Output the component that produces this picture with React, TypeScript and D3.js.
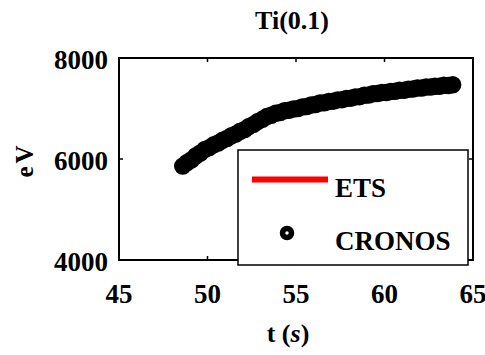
import React, { useEffect, useRef } from 'react';
import * as d3 from 'd3';

// CRONOS time trace (s) and electron temperature (eV)
const cronosTime = [
  48.6, 48.85, 49.1, 49.35, 49.6, 49.85, 50.1, 50.35, 50.6, 50.85,
  51.1, 51.35, 51.6, 51.85, 52.1, 52.35, 52.6, 52.85, 53.1, 53.35,
  53.6, 53.85, 54.1, 54.35, 54.6, 54.85, 55.1, 55.35, 55.6, 55.85,
  56.1, 56.35, 56.6, 56.85, 57.1, 57.35, 57.6, 57.85, 58.1, 58.35,
  58.6, 58.85, 59.1, 59.35, 59.6, 59.85, 60.1, 60.35, 60.6, 60.85,
  61.1, 61.35, 61.6, 61.85, 62.1, 62.35, 62.6, 62.85, 63.1, 63.35,
  63.6, 63.85,
];
const cronosTe = [
  5860, 5930, 5985, 6065, 6120, 6190, 6225, 6280, 6315, 6370,
  6405, 6460, 6495, 6550, 6585, 6645, 6685, 6745, 6785, 6840,
  6865, 6905, 6920, 6955, 6965, 6990, 7000, 7030, 7040, 7070,
  7080, 7110, 7115, 7140, 7145, 7170, 7175, 7200, 7205, 7230,
  7235, 7260, 7265, 7290, 7295, 7315, 7315, 7335, 7340, 7360,
  7360, 7380, 7385, 7405, 7405, 7425, 7425, 7440, 7440, 7460,
  7455, 7470,
];

const xTicks = [45, 50, 55, 60, 65];
const yTicks = [4000, 6000, 8000];
const legendLabels = ['ETS', 'CRONOS'];

const FONT = '"Liberation Serif", "Times New Roman", serif';

export default function App() {
  const ref = useRef<SVGSVGElement | null>(null);

  useEffect(() => {
    const svg = d3.select(ref.current);
    svg.selectAll('*').remove();

    const left = 119, right = 473, top = 58, bottom = 260;

    const x = d3.scaleLinear().domain([45, 65]).range([left, right]);
    const y = d3.scaleLinear().domain([4000, 8000]).range([bottom, top]);

    svg.append('rect').attr('width', 485).attr('height', 355).attr('fill', '#fff');

    // title
    svg.append('text')
      .attr('x', 292).attr('y', 29)
      .attr('text-anchor', 'middle')
      .style('font-family', FONT).style('font-weight', 'bold').style('font-size', '26px')
      .text('Ti(0.1)');

    // data markers
    const pts = cronosTime.map((t, i) => ({ t, v: cronosTe[i] }));
    svg.append('g')
      .selectAll('circle')
      .data(pts)
      .join('circle')
      .attr('cx', (d) => x(d.t))
      .attr('cy', (d) => y(d.v))
      .attr('r', 5.5)
      .attr('fill', 'none')
      .attr('stroke', '#000')
      .attr('stroke-width', 6.5);

    // axes box
    svg.append('rect')
      .attr('x', left).attr('y', top)
      .attr('width', right - left).attr('height', bottom - top)
      .attr('fill', 'none').attr('stroke', '#000').attr('stroke-width', 2);

    const tk = svg.append('g').attr('stroke', '#000').attr('stroke-width', 1.5);
    xTicks.forEach((t) => {
      tk.append('line').attr('x1', x(t)).attr('x2', x(t)).attr('y1', bottom).attr('y2', bottom - 4);
      tk.append('line').attr('x1', x(t)).attr('x2', x(t)).attr('y1', top).attr('y2', top + 4);
    });
    yTicks.forEach((v) => {
      tk.append('line').attr('x1', left).attr('x2', left + 4).attr('y1', y(v)).attr('y2', y(v));
      tk.append('line').attr('x1', right).attr('x2', right - 4).attr('y1', y(v)).attr('y2', y(v));
    });

    // tick labels
    svg.append('g')
      .selectAll('text')
      .data(xTicks)
      .join('text')
      .attr('x', (d) => x(d))
      .attr('y', 303)
      .attr('text-anchor', 'middle')
      .style('font-family', FONT).style('font-weight', 'bold').style('font-size', '27px')
      .text((d) => d);

    svg.append('g')
      .selectAll('text')
      .data(yTicks)
      .join('text')
      .attr('x', 108)
      .attr('y', (d) => y(d) + 11)
      .attr('text-anchor', 'end')
      .style('font-family', FONT).style('font-weight', 'bold').style('font-size', '27px')
      .text((d) => d);

    // axis labels
    svg.append('text')
      .attr('transform', 'translate(33,160) rotate(-90)')
      .attr('text-anchor', 'middle')
      .style('font-family', FONT).style('font-weight', 'bold').style('font-size', '25px')
      .style('letter-spacing', '3px')
      .text('eV');

    const xl = svg.append('text')
      .attr('x', 288).attr('y', 342)
      .attr('text-anchor', 'middle')
      .style('font-family', FONT).style('font-weight', 'bold').style('font-size', '26px');
    xl.append('tspan').text('t (');
    xl.append('tspan').style('font-style', 'italic').text('s');
    xl.append('tspan').text(')');

    // legend
    const lg = svg.append('g');
    lg.append('rect')
      .attr('x', 238).attr('y', 150).attr('width', 230).attr('height', 115)
      .attr('fill', '#fff').attr('stroke', '#000').attr('stroke-width', 1.5);
    lg.append('line')
      .attr('x1', 252).attr('x2', 328).attr('y1', 179.5).attr('y2', 179.5)
      .attr('stroke', '#ff0000').attr('stroke-width', 6);
    lg.append('circle')
      .attr('cx', 287).attr('cy', 233).attr('r', 4.5)
      .attr('fill', 'none').attr('stroke', '#000').attr('stroke-width', 5.5);
    lg.selectAll('text.lab')
      .data(legendLabels)
      .join('text')
      .attr('class', 'lab')
      .attr('x', 335)
      .attr('y', (d, i) => (i === 0 ? 197 : 250))
      .style('font-family', FONT).style('font-weight', 'bold').style('font-size', '27px')
      .text((d) => d);
  }, []);

  return (
    <svg
      ref={ref}
      width={485}
      height={355}
      style={{ position: 'absolute', left: 0, top: 0, display: 'block' }}
    />
  );
}
